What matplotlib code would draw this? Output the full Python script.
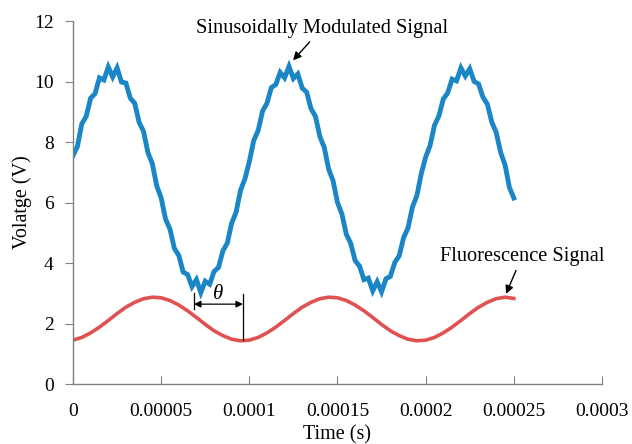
import numpy as np
import matplotlib.pyplot as plt

plt.rcParams['font.family'] = ['Liberation Serif', 'DejaVu Serif']

# time base (s)
t_mod = np.arange(101) * 2.5e-6
t_fl = np.arange(51) * 5e-6

# sinusoidally modulated signal (V), noise included
v_mod = [7.55, 7.85, 8.60, 8.85, 9.45, 9.60, 10.12, 10.05, 10.48, 10.15,
         10.45, 9.98, 9.95, 9.45, 9.28, 8.65, 8.35, 7.65, 7.28, 6.55,
         6.15, 5.45, 5.12, 4.48, 4.25, 3.70, 3.62, 3.22, 3.45, 3.02,
         3.40, 3.30, 3.72, 3.85, 4.40, 4.66, 5.32, 5.68, 6.40, 6.78,
         7.35, 8.05, 8.38, 9.02, 9.28, 9.80, 9.90, 10.30, 10.12, 10.50,
         10.10, 10.25, 9.78, 9.65, 9.10, 8.85, 8.18, 7.82, 7.10, 6.72,
         6.00, 5.62, 4.95, 4.65, 4.08, 3.90, 3.45, 3.50, 3.08, 3.38,
         3.05, 3.48, 3.56, 4.02, 4.24, 4.84, 5.16, 5.85, 6.22, 6.95,
         7.50, 7.88, 8.55, 8.86, 9.42, 9.62, 10.08, 10.02, 10.45, 10.18,
         10.42, 10.00, 9.92, 9.48, 9.25, 8.66, 8.32, 7.66, 7.25, 6.50,
         6.15]

# fluorescence signal (V)
v_fl = [1.45, 1.54, 1.69, 1.88, 2.10, 2.33, 2.54, 2.70, 2.82, 2.87,
        2.85, 2.76, 2.61, 2.42, 2.20, 1.97, 1.76, 1.60, 1.48, 1.43,
        1.45, 1.54, 1.69, 1.88, 2.10, 2.33, 2.54, 2.70, 2.82, 2.87,
        2.85, 2.76, 2.61, 2.42, 2.20, 1.97, 1.76, 1.60, 1.48, 1.43,
        1.45, 1.54, 1.69, 1.88, 2.10, 2.33, 2.54, 2.70, 2.82, 2.87,
        2.83]

xticks = [0, 0.00005, 0.0001, 0.00015, 0.0002, 0.00025, 0.0003]
xtick_labels = ['0', '0.00005', '0.0001', '0.00015', '0.0002', '0.00025', '0.0003']
yticks = [0, 2, 4, 6, 8, 10, 12]

fig = plt.figure(figsize=(6.32, 4.44), dpi=100)
ax = fig.add_axes([0.1155, 0.1351, 0.837, 0.8176])

ax.plot(t_mod, v_mod, color='#1b86c6', lw=3.5, solid_joinstyle='miter')
ax.plot(t_fl, v_fl, color='#e05252', lw=2.6)

ax.set_xlim(0, 0.0003)
ax.set_ylim(0, 12)
ax.set_xticks(xticks)
ax.set_xticklabels(xtick_labels)
ax.set_yticks(yticks)

for s in ['top', 'right']:
    ax.spines[s].set_visible(False)
for s in ['left', 'bottom']:
    ax.spines[s].set_color('#808080')
    ax.spines[s].set_linewidth(1.0)
ax.tick_params(axis='x', direction='in', length=6, color='#808080', labelsize=14, pad=14)
ax.tick_params(axis='y', direction='out', length=6, color='#808080', labelsize=14, pad=8)
ax.set_xlabel('Time (s)', fontsize=14.5)
ax.set_ylabel('Volatge (V)', fontsize=14.5)
ax.xaxis.set_label_coords(0.5, -0.113)
ax.yaxis.set_label_coords(-0.078, 0.5)

# annotations
ax.annotate('Sinusoidally Modulated Signal', xy=(0.0001248, 10.7), xytext=(0.000141, 11.75),
            ha='center', va='center', fontsize=14.7,
            arrowprops=dict(arrowstyle='-|>', color='black', lw=1, shrinkA=1, shrinkB=0,
                            mutation_scale=12))
ax.annotate('Fluorescence Signal', xy=(0.0002456, 2.98), xytext=(0.0002545, 4.2),
            ha='center', va='center', fontsize=14.7,
            arrowprops=dict(arrowstyle='-|>', color='black', lw=1, shrinkA=1, shrinkB=0,
                            mutation_scale=12))

# phase marker
ax.plot([0.0000686, 0.0000686], [2.48, 3.0], color='black', lw=0.9)
ax.plot([0.0000964, 0.0000964], [1.45, 2.98], color='black', lw=0.9)
ax.annotate('', xy=(0.0000686, 2.64), xytext=(0.0000964, 2.64),
            arrowprops=dict(arrowstyle='<|-|>', color='black', lw=0.9, shrinkA=0, shrinkB=0,
                            mutation_scale=10))
ax.text(0.0000825, 2.95, 'θ', style='italic', ha='center', va='center', fontsize=15)

fig.savefig('out.png', dpi=100)
